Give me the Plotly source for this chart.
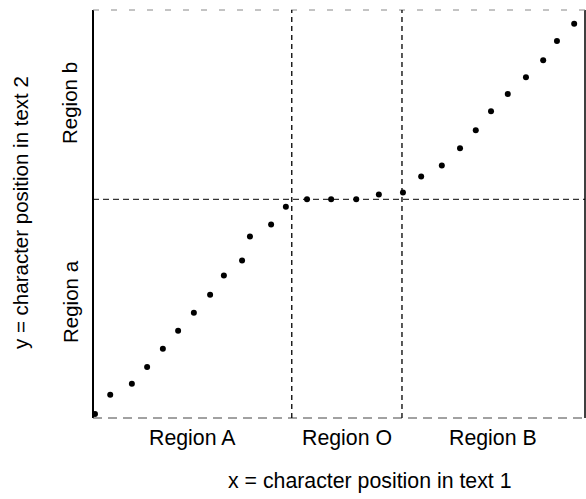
import plotly.graph_objects as go

# character positions (x in text 1, y in text 2)
x_pos = [0.4, 3.5, 7.9, 11.0, 14.2, 17.3, 20.5, 23.8, 26.6, 30.3, 31.9, 36.2, 39.2,
         43.5, 48.4, 53.5, 58.1, 63.0,
         66.7, 70.9, 74.6, 77.8, 80.9, 84.3, 88.0, 91.5, 94.3, 97.8]
y_pos = [1.0, 5.7, 8.4, 12.5, 17.0, 21.4, 25.8, 30.2, 34.9, 38.6, 44.5, 47.4, 51.8,
         53.6, 53.6, 53.6, 54.8, 55.3,
         59.2, 61.9, 66.1, 70.5, 75.2, 79.4, 83.5, 87.7, 92.4, 96.6]

x_bounds = [40.4, 62.8]          # Region A | Region O | Region B
y_bound = 53.6                   # Region a | Region b
x_range = [0, 100]
y_range = [0, 100]

x_region_labels = ["Region A", "Region O", "Region B"]
y_region_labels = ["Region a", "Region b"]
x_title = "x = character position in text 1"
y_title = "y = character position in text 2"

FONT = "Liberation Sans, Arial, Helvetica, sans-serif"
W, H = 586, 499
L, R, T, B = 93, 1, 10, 81
PW, PH = W - L - R, H - T - B


def px(xp):
    return (xp - L) / PW


def py(yp):
    return (H - B - yp) / PH


fig = go.Figure()
fig.add_trace(go.Scatter(x=x_pos, y=y_pos, mode="markers",
                         marker=dict(color="black", size=6), cliponaxis=False,
                         showlegend=False))

shapes = []
# frame
shapes.append(dict(type="line", xref="paper", yref="paper", x0=0, x1=0, y0=0, y1=1,
                   line=dict(color="black", width=2)))
shapes.append(dict(type="line", xref="paper", yref="paper", x0=1, x1=1, y0=0, y1=1,
                   line=dict(color="black", width=1.5)))
shapes.append(dict(type="line", xref="paper", yref="paper", x0=0, x1=1, y0=1, y1=1,
                   line=dict(color="#888", width=1, dash="6px,12px")))
shapes.append(dict(type="line", xref="paper", yref="paper", x0=0, x1=1, y0=0, y1=0,
                   line=dict(color="#444", width=1, dash="9px,6px")))
# region boundaries
for xb in x_bounds:
    shapes.append(dict(type="line", xref="x", yref="paper", x0=xb, x1=xb, y0=0, y1=1,
                       line=dict(color="black", width=1.3, dash="5px,4px")))
shapes.append(dict(type="line", xref="paper", yref="y", x0=0, x1=1, y0=y_bound, y1=y_bound,
                   line=dict(color="black", width=1, dash="6px,4px")))

txt = dict(size=21.3, color="black", family=FONT)
vtxt = dict(size=20.5, color="black", family=FONT)

annotations = []
xe = [x_range[0]] + x_bounds + [x_range[1]]
for i, lab in enumerate(x_region_labels):
    annotations.append(dict(x=(xe[i] + xe[i + 1]) / 2, y=py(438), xref="x", yref="paper",
                            text=lab, showarrow=False, font=txt,
                            xanchor="center", yanchor="middle"))
y_label_pix = [302, 103]
for lab, yp in zip(y_region_labels, y_label_pix):
    annotations.append(dict(x=px(70), y=py(yp), xref="paper", yref="paper",
                            text=lab, showarrow=False, textangle=-90, font=vtxt,
                            xanchor="center", yanchor="middle"))
annotations.append(dict(x=px(370), y=py(481), xref="paper", yref="paper", text=x_title,
                        showarrow=False, font=txt, xanchor="center", yanchor="middle"))
annotations.append(dict(x=px(20), y=py(213), xref="paper", yref="paper", text=y_title,
                        showarrow=False, textangle=-90, font=vtxt,
                        xanchor="center", yanchor="middle"))

fig.update_layout(
    width=W, height=H,
    margin=dict(l=L, r=R, t=T, b=B, autoexpand=False),
    paper_bgcolor="white", plot_bgcolor="white",
    xaxis=dict(range=x_range, showgrid=False, zeroline=False, showticklabels=False,
               ticks="", showline=False, automargin=False),
    yaxis=dict(range=y_range, showgrid=False, zeroline=False, showticklabels=False,
               ticks="", showline=False, automargin=False),
    shapes=shapes,
    annotations=annotations,
    font=dict(family=FONT, color="black"),
)

fig.write_html("out.html", config={"displayModeBar": False},
               post_script="document.body.style.margin='0';document.body.style.padding='0';")
